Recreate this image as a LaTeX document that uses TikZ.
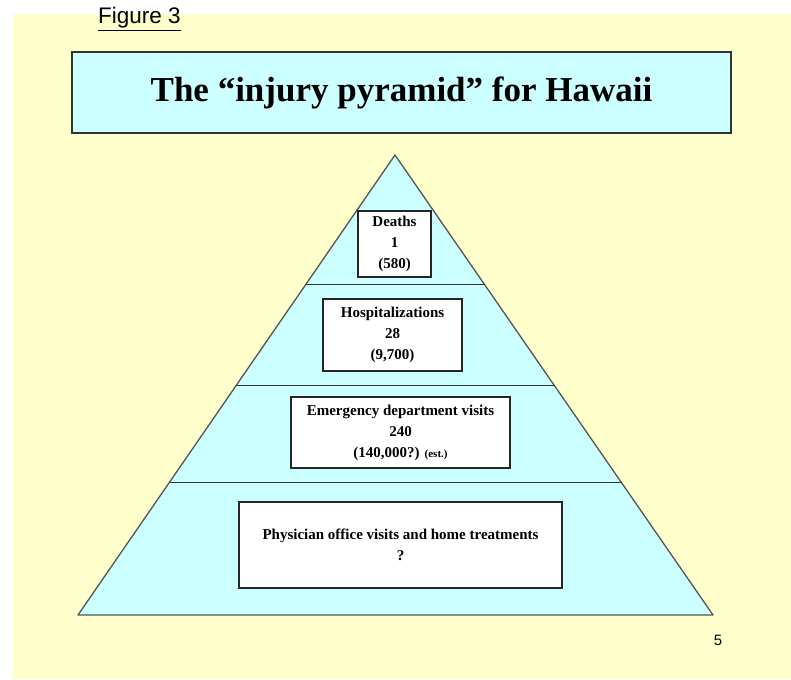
\documentclass[tikz,border=0pt]{standalone}
\usepackage{fontspec}
\setmainfont{Liberation Serif}
\newfontfamily\figfont{Liberation Sans}
\usetikzlibrary{positioning,calc}
\definecolor{slideyellow}{HTML}{FFFFCC}
\definecolor{slidecyan}{HTML}{CCFFFF}
\definecolor{edgegray}{HTML}{555555}
\tikzset{
  level box/.style={
    draw=black!85,
    fill=white,
    line width=1.2pt,
    align=center,
    inner sep=0pt,
    font=\fontsize{15}{21}\selectfont\bfseries
  },
  title box/.style={
    draw=black!80,
    fill=slidecyan,
    line width=1.2pt,
    minimum width=659pt,
    minimum height=81pt,
    font=\fontsize{35}{40}\selectfont\bfseries
  },
  layer line/.style={draw=black!80,line width=1pt}
}
\begin{document}
\begin{tikzpicture}[x=1pt,y=-1pt]
\useasboundingbox (0,0) rectangle (791,679);
\fill[white] (0,0) rectangle (791,679);
\fill[slideyellow] (13,14) rectangle (791,679);
\node (fig) at (139.5,19) {\figfont\fontsize{22.5}{24}\selectfont\underline{Figure 3}};
\node (title) [title box] at (401.5,92.5) {The “injury pyramid” for Hawaii};
% pyramid
\coordinate (apex) at (395,155);
\coordinate (bl) at (78,615);
\coordinate (br) at (713,615);
\filldraw[fill=slidecyan,draw=edgegray,line width=1.3pt,line join=round] (apex) -- (bl) -- (br) -- cycle;
\foreach \t [count=\i] in {0.2826,0.502,0.711}
  \draw[layer line] ($(apex)!\t!(bl)$) -- ($(apex)!\t!(br)$);
% levels
\node (deaths) [level box,minimum width=73pt,minimum height=66pt] at (394.5,244) {Deaths\\1\\(580)};
\node (hosp) [level box,minimum width=139pt,minimum height=72pt] at (392.5,335) {Hospitalizations\\28\\(9,700)};
\node (ed) [level box,minimum width=219pt,minimum height=71pt] at (400.5,432.5)
  {Emergency department visits\\240\\(140,000?) {\fontsize{11}{12}\selectfont(est.)}};
\node (phys) [level box,minimum width=323pt,minimum height=86pt] at (400.5,545)
  {Physician office visits and home treatments\\?};
\node (page) at (718,640) {\figfont\fontsize{15}{16}\selectfont 5};
\end{tikzpicture}
\end{document}
